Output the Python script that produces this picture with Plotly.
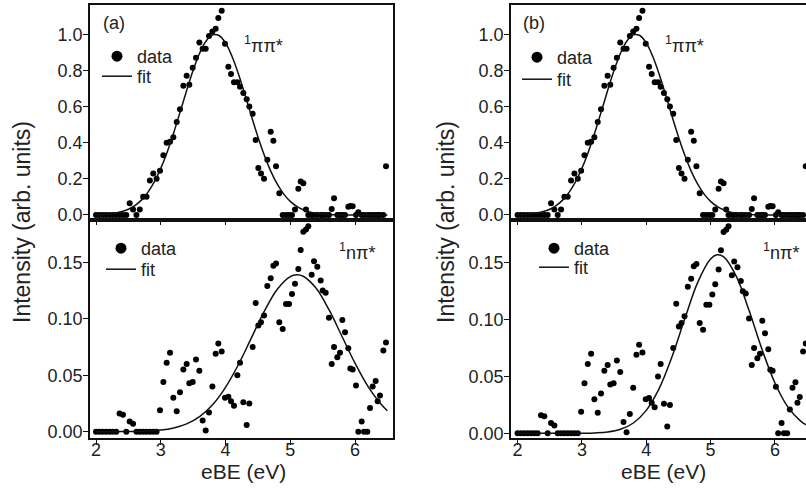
import plotly.graph_objects as go

# ---------------- data ----------------
ebe = [2.000, 2.052, 2.104, 2.156, 2.208, 2.260, 2.312, 2.364, 2.416, 2.468,
       2.520, 2.572, 2.624, 2.676, 2.728, 2.780, 2.832, 2.884, 2.936, 2.988,
       3.040, 3.091, 3.143, 3.194, 3.246, 3.297, 3.349, 3.400, 3.441, 3.493,
       3.544, 3.596, 3.647, 3.694, 3.745, 3.797, 3.848, 3.889, 3.941, 3.992,
       4.044, 4.085, 4.131, 4.183, 4.224, 4.275, 4.327, 4.368, 4.420, 4.466,
       4.507, 4.548, 4.595, 4.646, 4.698, 4.739, 4.780, 4.831, 4.883, 4.934,
       4.981, 5.027, 5.073, 5.125, 5.161, 5.202, 5.243, 5.279, 5.331, 5.367,
       5.418, 5.470, 5.501, 5.547, 5.598, 5.640, 5.676, 5.727, 5.768, 5.804,
       5.846, 5.897, 5.928, 5.964, 6.015, 6.051, 6.103, 6.139, 6.190, 6.232,
       6.273, 6.319, 6.350, 6.386, 6.438, 6.479]

pipi_data = [0, 0, 0, 0, 0, 0, 0, 0, 0, 0,
             0.065, 0.03, 0.0, 0.03, 0.10, 0.10, 0.19, 0.23, 0.20, 0.245,
             0.33, 0.40, 0.405, 0.43, 0.515, 0.585, 0.715, 0.77, 0.72, 0.815,
             0.87, 0.955, 0.92, 0.92, 0.99, 1.015, 1.03, 1.09, 1.13, 0.947,
             0.82, 0.78, 0.735, 0.735, 0.71, 0.675, 0.64, 0.60, 0.56, 0.415,
             0.26, 0.23, 0.20, 0.305, 0.46, 0.41, 0.27, 0.12, 0.0, 0.0,
             0.0, 0.0, 0.03, 0.145, 0.185, 0.175, 0.03, 0.0, 0.0, 0.0,
             0.0, 0.0, 0.0, 0.0, 0.0, 0.033, 0.092, 0.0, 0.0, 0.0,
             0.0, 0.045, 0.05, 0.048, 0.0, 0.015, 0.0, 0.0, 0.0, 0.0,
             0.0, 0.0, 0.0, 0.0, 0.0, 0.27]

npi_data = [0, 0, 0, 0, 0, 0, 0, 0.016, 0.015, 0,
            0.009, 0.007, 0, 0, 0, 0, 0, 0, 0, 0.019,
            0.044, 0.061, 0.070, 0.030, 0.018, 0.035, 0.055, 0.060, 0.043, 0.044,
            0.064, 0.054, 0.010, 0.001, 0.017, 0.040, 0.069, 0.078, 0.071, 0.030,
            0.031, 0.027, 0.023, 0.050, 0.061, 0.026, 0.006, 0.025, 0.075, 0.114,
            0.094, 0.097, 0.103, 0.129, 0.136, 0.147, 0.149, 0.097, 0.091, 0.113,
            0.113, 0.122, 0.131, 0.144, 0.161, 0.177, 0.179, 0.182, 0.139, 0.151,
            0.146, 0.134, 0.125, 0.123, 0.101, 0.060, 0.075, 0.066, 0.070, 0.099,
            0.088, 0.074, 0.056, 0.055, 0.041, 0.0, 0.009, 0.0, 0.0, 0.021,
            0.040, 0.045, 0.027, 0.032, 0.072, 0.079]

fit_x_top = [2.0, 2.1, 2.2, 2.3, 2.4, 2.5, 2.6, 2.7, 2.8, 2.9,
             3.0, 3.1, 3.2, 3.3, 3.4, 3.5, 3.6, 3.7, 3.8, 3.9,
             4.0, 4.1, 4.2, 4.3, 4.4, 4.5, 4.6, 4.7, 4.8, 4.9,
             5.0, 5.1, 5.2, 5.3, 5.4, 5.5, 5.6, 5.7, 5.8, 5.9,
             6.0, 6.1, 6.2, 6.3, 6.4, 6.5]
fit_pipi = [0.0015, 0.003, 0.0057, 0.0105, 0.0186, 0.0317, 0.052, 0.082, 0.125, 0.183,
            0.258, 0.349, 0.455, 0.571, 0.689, 0.801, 0.895, 0.963, 0.997, 0.993,
            0.952, 0.878, 0.780, 0.666, 0.547, 0.433, 0.330, 0.241, 0.170, 0.115,
            0.075, 0.047, 0.0286, 0.0166, 0.0093, 0.005, 0.0026, 0.0013, 0.0006, 0.0003,
            0.0001, 0.0, 0.0, 0.0, 0.0, 0.0]

fit_x_bot = [2.0, 2.2, 2.4, 2.6, 2.8, 3.0, 3.2, 3.4, 3.6, 3.8, 4.0, 4.2, 4.4,
             4.6, 4.8, 5.0, 5.1, 5.2, 5.4, 5.6, 5.8, 6.0, 6.2, 6.4, 6.5]
fit_npi_a = [0.0, 0.0, 0.0001, 0.0002, 0.0006, 0.0014, 0.0033, 0.0069, 0.0133, 0.0238,
             0.0393, 0.0595, 0.0831, 0.1067, 0.1262, 0.1374, 0.139, 0.1377, 0.1270,
             0.1078, 0.0843, 0.0607, 0.0402, 0.0245, 0.0185]
fit_npi_b = [0.0, 0.0, 0.0, 0.0, 0.0, 0.0001, 0.0004, 0.0012, 0.0036, 0.0091,
             0.0202, 0.0393, 0.0673, 0.1009, 0.1328, 0.1533, 0.157, 0.1554, 0.1381,
             0.1077, 0.0737, 0.0443, 0.0233, 0.0108, 0.0070]

x_ticks = [2, 3, 4, 5, 6]
top_ticks = [0.0, 0.2, 0.4, 0.6, 0.8, 1.0]
bot_ticks = [0.00, 0.05, 0.10, 0.15]

# ---------------- figure ----------------
W, H = 806, 496
FONT = "Liberation Sans, Arial, sans-serif"
INK = "#111111"
TXT = "#222222"


def px(x):
    return x / W


def py(y):
    return 1 - y / H


fig = go.Figure()

panels = [
    # (xaxis, yaxis, data, fit_x, fit_y, legend for data, legend for fit)
    ("x", "y", pipi_data, fit_x_top, fit_pipi, "legend", "legend2"),
    ("x2", "y2", npi_data, fit_x_bot, fit_npi_a, "legend3", "legend4"),
    ("x3", "y3", pipi_data, fit_x_top, fit_pipi, "legend5", "legend6"),
    ("x4", "y4", npi_data, fit_x_bot, fit_npi_b, "legend7", "legend8"),
]

for xa, ya, dat, fx, fy, lg_d, lg_f in panels:
    fig.add_trace(go.Scatter(x=ebe, y=dat, xaxis=xa, yaxis=ya, mode="markers",
                             marker=dict(size=6, color="black"), name="data",
                             legend=lg_d, showlegend=False, hoverinfo="skip"))
    fig.add_trace(go.Scatter(x=fx, y=fy, xaxis=xa, yaxis=ya, mode="lines",
                             line=dict(color=INK, width=1.5, shape="spline", smoothing=1),
                             name="fit", legend=lg_f, showlegend=True, hoverinfo="skip"))
    # legend entry for the data with a larger dot, as in the reference
    fig.add_trace(go.Scatter(x=[None], y=[None], xaxis=xa, yaxis=ya, mode="markers",
                             marker=dict(size=11, color="black"), name="data",
                             legend=lg_d, showlegend=True))

ax_common = dict(showgrid=False, zeroline=False, showline=True, linecolor=INK,
                 linewidth=1.5, ticks="outside", tickcolor=INK, tickwidth=1,
                 automargin=False, tickfont=dict(family=FONT, size=18, color=TXT))

dom_a = [px(90), px(393)]
dom_b = [px(511), 1.0]
dom_top = [py(220), py(5)]
dom_bot = [py(438), py(220)]

fig.update_layout(
    width=W, height=H, margin=dict(l=0, r=0, t=0, b=0),
    paper_bgcolor="white", plot_bgcolor="white",
    font=dict(family=FONT, size=18, color=TXT),
    xaxis=dict(ax_common, domain=dom_a, range=[1.907, 6.587], anchor="y", mirror=True,
               tickvals=x_ticks, showticklabels=False, ticklen=3),
    yaxis=dict(ax_common, domain=dom_top, range=[-0.028, 1.162], anchor="x", mirror=True,
               tickvals=top_ticks, tickformat=".1f", ticklen=5, ticklabelstandoff=-3),
    xaxis2=dict(ax_common, domain=dom_a, range=[1.907, 6.587], anchor="y2", mirror=True,
                tickvals=x_ticks, ticklen=5, ticklabelstandoff=-10),
    yaxis2=dict(ax_common, domain=dom_bot, range=[-0.0056, 0.1875], anchor="x2", mirror=True,
                tickvals=bot_ticks, tickformat=".2f", ticklen=5, ticklabelstandoff=-3),
    xaxis3=dict(ax_common, domain=dom_b, range=[1.898, 6.483], anchor="y3", mirror=True,
                tickvals=x_ticks, showticklabels=False, ticklen=3),
    yaxis3=dict(ax_common, domain=dom_top, range=[-0.028, 1.162], anchor="x3", mirror=False,
                tickvals=top_ticks, tickformat=".1f", ticklen=5, ticklabelstandoff=-3),
    xaxis4=dict(ax_common, domain=dom_b, range=[1.898, 6.483], anchor="y4", mirror=True,
                tickvals=x_ticks, ticklen=5, ticklabelstandoff=-10),
    yaxis4=dict(ax_common, domain=dom_bot, range=[-0.0041, 0.1876], anchor="x4", mirror=False,
                tickvals=bot_ticks, tickformat=".2f", ticklen=5, ticklabelstandoff=-3),
)

leg_common = dict(xanchor="left", yanchor="top", bgcolor="rgba(0,0,0,0)",
                  borderwidth=0, font=dict(family=FONT, size=18, color=TXT),
                  tracegroupgap=0, itemclick=False, itemdoubleclick=False)
LOFF = 19  # distance from legend top to its item centre
fig.update_layout(
    legend=dict(leg_common, x=px(97), y=py(57 - LOFF)),
    legend2=dict(leg_common, x=px(97), y=py(77 - LOFF)),
    legend3=dict(leg_common, x=px(101), y=py(249 - LOFF)),
    legend4=dict(leg_common, x=px(101), y=py(270 - LOFF)),
    legend5=dict(leg_common, x=px(517), y=py(58 - LOFF)),
    legend6=dict(leg_common, x=px(517), y=py(80 - LOFF)),
    legend7=dict(leg_common, x=px(534), y=py(249 - LOFF)),
    legend8=dict(leg_common, x=px(534), y=py(268 - LOFF)),
)

ann = []


def add_text(text, x, y, size=18, xanchor="left", angle=0):
    ann.append(dict(text=text, x=px(x), y=py(y), xref="paper", yref="paper",
                    xanchor=xanchor, yanchor="middle", showarrow=False,
                    textangle=angle, font=dict(family=FONT, size=size, color=TXT)))


add_text("(a)", 101, 23)
add_text("(b)", 521, 23)
add_text("<sup>1</sup>ππ*", 242, 45)
add_text("<sup>1</sup>ππ*", 663, 45)
add_text("<sup>1</sup>nπ*", 337, 251)
add_text("<sup>1</sup>nπ*", 761, 251)
add_text("Intensity (arb. units)", 22, 222, size=23, xanchor="center", angle=-90)
add_text("Intensity (arb. units)", 446, 222, size=23, xanchor="center", angle=-90)
add_text("eBE (eV)", 243, 471, size=21, xanchor="center")
add_text("eBE (eV)", 663, 471, size=21, xanchor="center")
fig.update_layout(annotations=ann)

fig.write_html("out.html")
